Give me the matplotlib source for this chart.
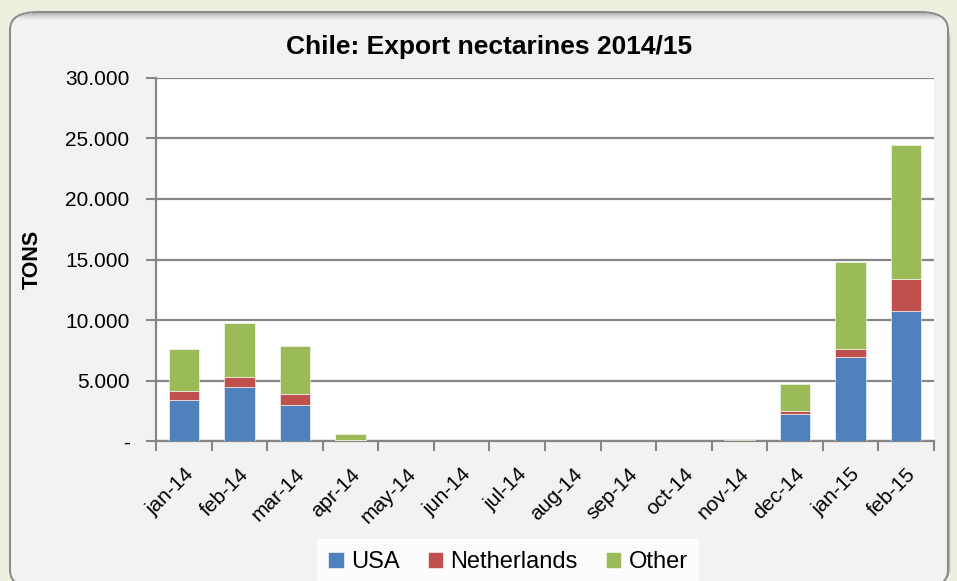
import numpy as np
import matplotlib
matplotlib.use("Agg")
import matplotlib.pyplot as plt
from matplotlib.patches import FancyBboxPatch, Rectangle
from matplotlib.ticker import FuncFormatter, FixedLocator

plt.rcParams['font.family'] = ['Liberation Sans', 'DejaVu Sans']

# data (tons)
months = ['jan-14', 'feb-14', 'mar-14', 'apr-14', 'may-14', 'jun-14', 'jul-14',
          'aug-14', 'sep-14', 'oct-14', 'nov-14', 'dec-14', 'jan-15', 'feb-15']
usa = [3390, 4470, 2970, 100, 10, 0, 0, 0, 0, 0, 10, 2270, 6920, 10740]
netherlands = [780, 860, 890, 20, 0, 0, 0, 0, 0, 0, 0, 170, 690, 2620]
other = [3410, 4390, 4000, 450, 30, 0, 0, 0, 0, 0, 80, 2260, 7190, 11070]
series_names = ['USA', 'Netherlands', 'Other']
series_colors = ['#4F81BD', '#C0504D', '#9BBB59']

W, H = 957, 581
fig = plt.figure(figsize=(W / 100, H / 100), dpi=100)
fig.patch.set_facecolor('#EBF1DE')


def fx(px):
    return px / W


def fy(py):
    return 1 - py / H


# rounded grey panel with a soft shadow
for i, a in enumerate([0.08, 0.14, 0.20]):
    off = 3 - i
    sh = FancyBboxPatch((fx(10 + off), fy(588 - off)), fx(938), fy(12) - fy(576),
                        boxstyle="round,pad=0,rounding_size=0.03",
                        transform=fig.transFigure, facecolor='black', alpha=a,
                        edgecolor='none', zorder=0)
    fig.patches.append(sh)
panel = FancyBboxPatch((fx(10), fy(588)), fx(938), fy(12) - fy(588),
                       boxstyle="round,pad=0,rounding_size=0.03",
                       transform=fig.transFigure, facecolor='#F2F2F2',
                       edgecolor='#8C8C8C', linewidth=1.5, zorder=1)
fig.patches.append(panel)

# soft darker gradient just under the top edge of the panel
insets = [22, 16, 12, 10, 9, 8, 8]
for k, inset in enumerate(insets):
    band = Rectangle((fx(10 + inset), fy(14 + k)), fx(938 - 2 * inset), 1 / H,
                     transform=fig.transFigure, facecolor='#8C8C8C',
                     alpha=0.55 * (1 - k / len(insets)) ** 1.3, edgecolor='none',
                     zorder=2)
    fig.patches.append(band)

ax = fig.add_axes([fx(156), fy(441), fx(934) - fx(156), fy(78) - fy(441)])
ax.set_facecolor('white')
ax.set_zorder(2)

x = np.arange(len(months))
bottom = np.zeros(len(months))
for vals, name, col in zip([usa, netherlands, other], series_names, series_colors):
    ax.bar(x, vals, 0.55, bottom=bottom, color=col, label=name,
           edgecolor='white', linewidth=0.4, zorder=3)
    bottom += np.array(vals)

ax.set_xlim(-0.5, len(months) - 0.5)
ax.set_ylim(0, 30000)
ax.set_yticks(np.arange(0, 30001, 5000))
ax.yaxis.set_major_formatter(FuncFormatter(
    lambda v, p: '-' if v == 0 else f'{int(v):,}'.replace(',', '.')))
ax.grid(axis='y', color='#868686', linewidth=1.6, zorder=1)

ax.set_xticks(x)
ax.set_xticklabels(months, rotation=45, ha='right', rotation_mode='anchor',
                   fontsize=15)
ax.xaxis.set_minor_locator(FixedLocator(np.arange(-0.5, len(months), 1)))
ax.tick_params(axis='x', which='major', length=0, pad=17)
ax.tick_params(axis='x', which='minor', length=7, width=1.5, color='#868686')
ax.tick_params(axis='y', length=7, width=1.5, color='#868686', labelsize=15, pad=12)

for s in ['top', 'right']:
    ax.spines[s].set_visible(False)
for s in ['left', 'bottom']:
    ax.spines[s].set_color('#868686')
    ax.spines[s].set_linewidth(1.6)

ax.set_ylabel('TONS', fontsize=15.5, fontweight='bold')
ax.yaxis.set_label_coords(-0.146, 0.5)

fig.text(fx(489), fy(47), 'Chile: Export nectarines 2014/15', ha='center',
         va='center', fontsize=19, fontweight='bold', zorder=5)

leg = fig.legend(loc='center', bbox_to_anchor=(fx(508), fy(562)), ncol=3,
                 fontsize=17, frameon=True, fancybox=False, handlelength=0.65,
                 handleheight=0.65, handletextpad=0.3, columnspacing=1.2,
                 borderpad=0.5)
leg.get_frame().set_facecolor('white')
leg.get_frame().set_edgecolor('none')
leg.set_zorder(5)

fig.savefig('out.png', dpi=100, facecolor=fig.get_facecolor())
